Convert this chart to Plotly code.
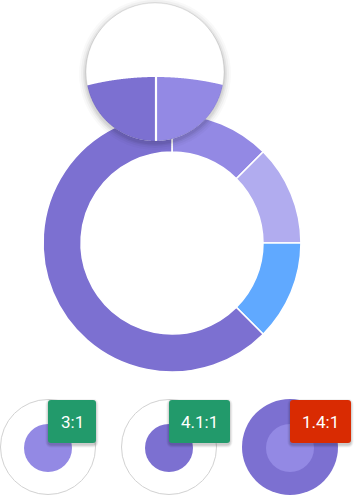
import numpy as np
import plotly.graph_objects as go

W, H = 355, 496

# ---- data ----
segment_labels = ["Segment A", "Segment B", "Segment C", "Segment D"]
segment_values = [1, 1, 1, 5]
segment_colors = ["#9389E4", "#B1ACEF", "#60A9FF", "#7C70D1"]

swatch_outer = ["#FFFFFF", "#FFFFFF", "#7C70D1"]
swatch_inner = ["#9389E4", "#7C70D1", "#9389E4"]
ratio_labels = ["3:1", "4.1:1", "1.4:1"]
ratio_colors = ["#229A6B", "#229A6B", "#D92B02"]

lens_colors = ["#7C70D1", "#9389E4"]

# ---- helpers: pixel -> paper ----
def px(x):
    return x / W

def py(y):
    return 1 - y / H

def pt(x, y):
    return f"{px(x):.5f},{py(y):.5f}"

def circle(cx, cy, r, **kw):
    return dict(type="circle", xref="paper", yref="paper",
                x0=px(cx - r), x1=px(cx + r), y0=py(cy + r), y1=py(cy - r), **kw)

def rrect(x0, y0, x1, y1, r):
    return ("M" + pt(x0 + r, y0) + " L" + pt(x1 - r, y0) + " Q" + pt(x1, y0) + " " + pt(x1, y0 + r)
            + " L" + pt(x1, y1 - r) + " Q" + pt(x1, y1) + " " + pt(x1 - r, y1)
            + " L" + pt(x0 + r, y1) + " Q" + pt(x0, y1) + " " + pt(x0, y1 - r)
            + " L" + pt(x0, y0 + r) + " Q" + pt(x0, y0) + " " + pt(x0 + r, y0) + " Z")

fig = go.Figure()

# main donut
cx, cy, R = 172, 243, 129
fig.add_trace(go.Pie(
    labels=segment_labels, values=segment_values, sort=False, direction="clockwise",
    rotation=0, hole=0.705, textinfo="none", hoverinfo="skip",
    marker=dict(colors=segment_colors, line=dict(color="white", width=1.6)),
    domain=dict(x=[px(cx - R), px(cx + R)], y=[py(cy + R), py(cy - R)]),
))

shapes = []

# ---- magnifier lens ----
lx, ly, lr = 155, 72, 69
mag_cx, mag_top, mag_R = 156, 77, 285
for d, a in [(7, 0.025), (5, 0.035), (3, 0.05), (1.5, 0.06)]:
    shapes.append(circle(lx, ly + 2, lr + d, fillcolor=f"rgba(0,0,0,{a})",
                         line=dict(width=0), layer="above"))
shapes.append(circle(lx, ly, lr, fillcolor="white", line=dict(width=0), layer="above"))

xs = np.linspace(lx - lr, lx + lr, 400)
lens_half = np.sqrt(np.clip(lr ** 2 - (xs - lx) ** 2, 0, None))
arc_y = mag_top + mag_R - np.sqrt(mag_R ** 2 - (xs - mag_cx) ** 2)
top = np.maximum(arc_y, ly - lens_half)
bot = ly + lens_half
for side, color in zip([xs <= mag_cx, xs >= mag_cx], lens_colors):
    m = side & (top < bot)
    xx, tt, bb = xs[m], top[m], bot[m]
    path = "M" + " L".join(pt(a, b) for a, b in zip(xx, tt))
    path += " L" + " L".join(pt(a, b) for a, b in zip(xx[::-1], bb[::-1])) + " Z"
    shapes.append(dict(type="path", xref="paper", yref="paper", path=path,
                       fillcolor=color, line=dict(width=0), layer="above"))
# separator in lens
shapes.append(dict(type="line", xref="paper", yref="paper",
                   x0=px(mag_cx), x1=px(mag_cx), y0=py(mag_top - 1), y1=py(ly + lr),
                   line=dict(color="white", width=2.2), layer="above"))
shapes.append(circle(lx, ly, lr, fillcolor="rgba(0,0,0,0)",
                     line=dict(color="rgba(0,0,0,0.08)", width=1), layer="above"))

# ---- bottom swatches ----
sw_cx = [48, 169, 290]
sw_cy = 447
annotations = []
for i in range(3):
    c = sw_cx[i]
    if swatch_outer[i] == "#FFFFFF":
        shapes.append(circle(c, sw_cy, 47.5, fillcolor="white",
                             line=dict(color="#D2D2D2", width=1), layer="above"))
    else:
        shapes.append(circle(c, sw_cy, 48, fillcolor=swatch_outer[i],
                             line=dict(width=0), layer="above"))
    shapes.append(circle(c, sw_cy + 1, 24, fillcolor=swatch_inner[i],
                         line=dict(width=0), layer="above"))
    x0 = c
    x1 = c + (48 if len(ratio_labels[i]) <= 3 else 61)
    y0, y1 = 400, 443
    for d, a in [(3, 0.05), (2, 0.07), (1, 0.09)]:
        shapes.append(dict(type="path", xref="paper", yref="paper",
                           path=rrect(x0 - d + 0.5, y0 - d + 2, x1 + d - 0.5, y1 + d + 1.5, 3 + d),
                           fillcolor=f"rgba(0,0,0,{a})", line=dict(width=0), layer="above"))
    shapes.append(dict(type="path", xref="paper", yref="paper", path=rrect(x0, y0, x1, y1, 3),
                       fillcolor=ratio_colors[i], line=dict(width=0), layer="above"))
    annotations.append(dict(xref="paper", yref="paper", x=px((x0 + x1) / 2), y=py((y0 + y1) / 2),
                            text=ratio_labels[i], showarrow=False,
                            font=dict(family="Roboto", size=17, color="white"),
                            xanchor="center", yanchor="middle"))

fig.update_layout(
    width=W, height=H, margin=dict(l=0, r=0, t=0, b=0),
    paper_bgcolor="white", plot_bgcolor="white", showlegend=False,
    shapes=shapes, annotations=annotations,
    xaxis=dict(visible=False), yaxis=dict(visible=False),
)
fig.write_html("out.html")
